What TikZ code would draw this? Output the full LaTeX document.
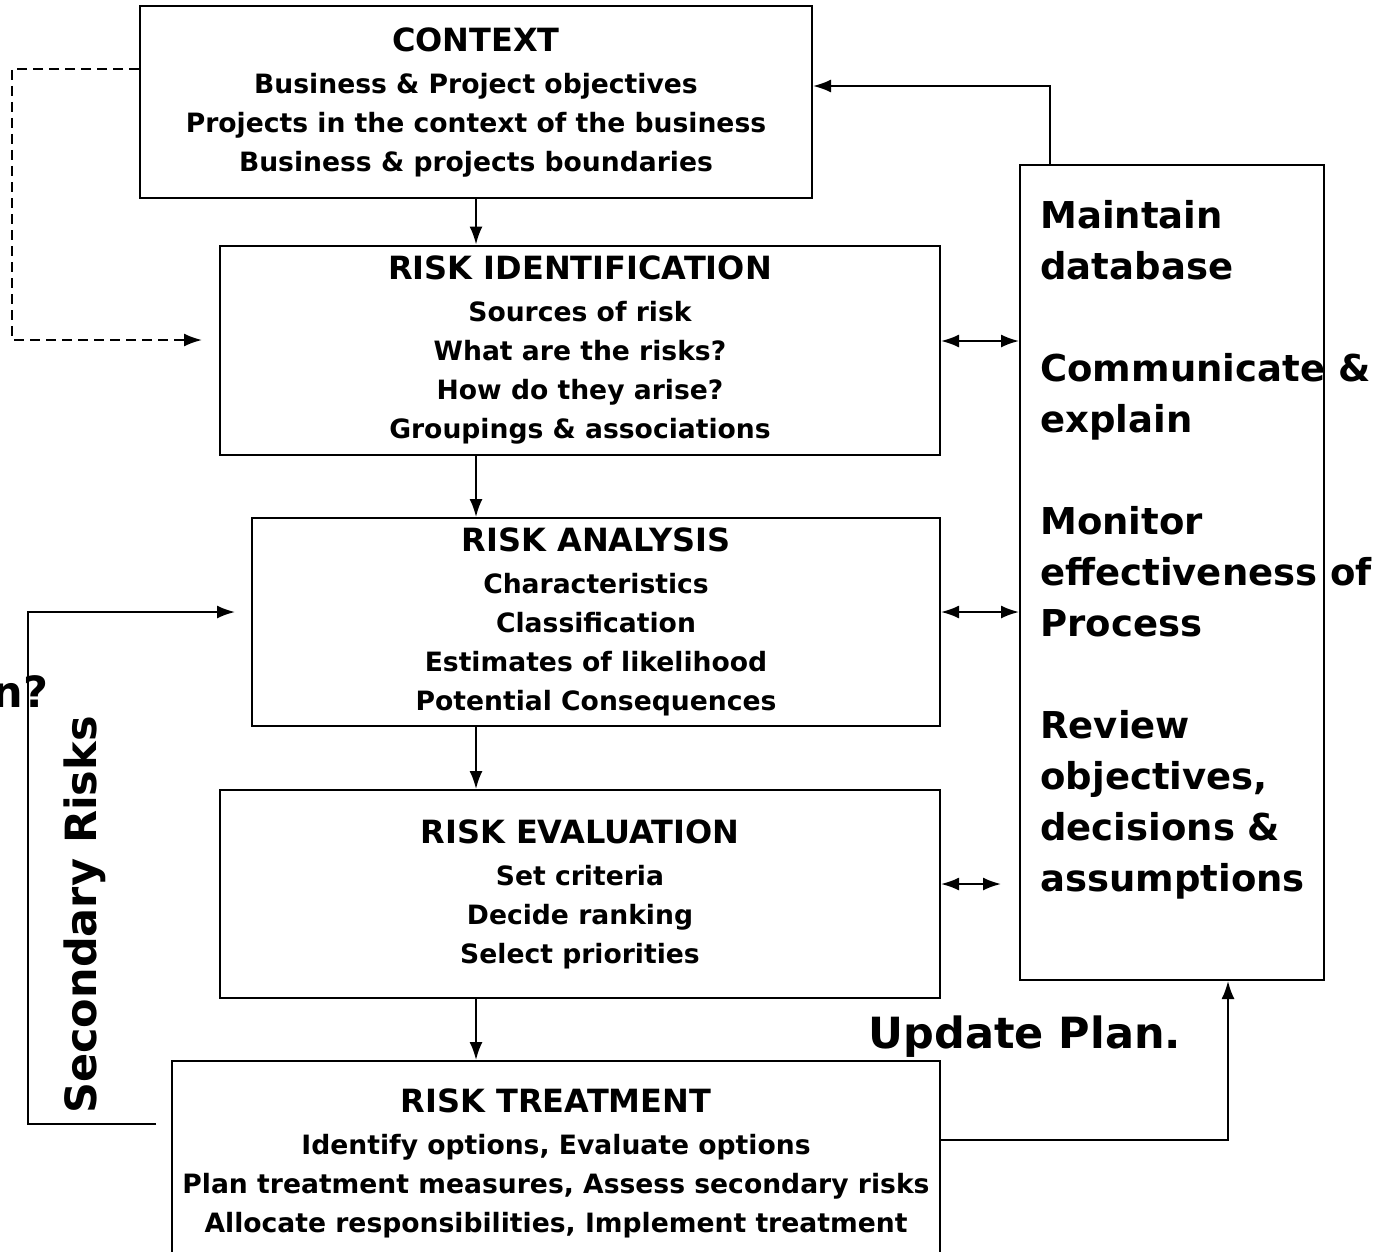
\documentclass[tikz,border=0pt]{standalone}
\usepackage{fontspec}
\setmainfont{DejaVu Sans}
\usetikzlibrary{arrows.meta}
\tikzset{
  stage/.style={draw, line width=1pt, align=center, inner sep=0pt,
    font=\bfseries\fontsize{13.3}{19.5}\selectfont},
  flow/.style={line width=1pt, -{Latex[length=9pt,width=6.5pt]}},
  both/.style={line width=1pt, {Latex[length=9pt,width=6.5pt]}-{Latex[length=9pt,width=6.5pt]}},
  bigtext/.style={font=\bfseries\fontsize{18.5}{25.5}\selectfont},
  hugetext/.style={font=\bfseries\fontsize{21.5}{26}\selectfont}
}
\newcommand{\stagetitle}[1]{{\fontsize{16}{19.5}\selectfont #1}\\[1.5pt]}
\begin{document}
\begin{tikzpicture}[x=0.5pt, y=-0.5pt]
  \useasboundingbox (0,0) rectangle (1392,1252);

  % the five stages
  \node[stage, minimum width=336pt, minimum height=95.5pt] (ctx) at (476,102) {%
    \stagetitle{CONTEXT}Business \& Project objectives\\Projects in the context of the business\\Business \& projects boundaries};
  \node[stage, minimum width=360pt, minimum height=104.5pt] (ident) at (580,350) {%
    \stagetitle{RISK IDENTIFICATION}Sources of risk\\What are the risks?\\How do they arise?\\Groupings \& associations};
  \node[stage, minimum width=344pt, minimum height=104pt] (anal) at (596,622) {%
    \stagetitle{RISK ANALYSIS}Characteristics\\Classification\\Estimates of likelihood\\Potential Consequences};
  \node[stage, minimum width=360pt, minimum height=104pt] (eval) at (580,894) {%
    \stagetitle{RISK EVALUATION}Set criteria\\Decide ranking\\Select priorities};
  \node[stage, minimum width=384pt, minimum height=102pt] (treat) at (556,1163) {%
    \stagetitle{RISK TREATMENT}Identify options, Evaluate options\\Plan treatment measures, Assess secondary risks\\Allocate responsibilities, Implement treatment};

  % monitoring panel on the right
  \node[draw, line width=1pt, minimum width=152pt, minimum height=407.5pt] (panel) at (1172,572.5) {};
  \node[bigtext, align=left, anchor=north west, inner sep=0pt] (tasks) at (1040,200) {%
    Maintain\\database\\[25.5pt]Communicate \&\\explain\\[25.5pt]Monitor\\effectiveness of\\Process\\[25.5pt]Review\\objectives,\\decisions \&\\assumptions};

  % free labels
  \node[hugetext] (upd) at (1025,1037) {Update Plan.};
  \node[hugetext, rotate=90] (sec) at (85,915) {Secondary Risks};
  \node[hugetext, anchor=west, inner sep=0pt] (ret) at (-8,692) {n?};
  \coordinate (dl) at (12,0);
  \coordinate (sl) at (28,0);

  % main flow down
  \draw[flow] (ctx.south) -- (ctx.south |- ident.north);
  \draw[flow] (ctx.south |- ident.south) -- (ctx.south |- anal.north);
  \draw[flow] (ctx.south |- anal.south) -- (ctx.south |- eval.north);
  \draw[flow] (ctx.south |- eval.south) -- (ctx.south |- treat.north);

  % links to the panel
  \draw[both] ([yshift=4.5pt]ident.east) -- ([yshift=4.5pt]ident.east -| panel.west);
  \draw[both] ([yshift=5pt]anal.east) -- ([yshift=5pt]anal.east -| panel.west);
  \draw[both] ([yshift=5pt]eval.east) -- ([xshift=-9pt,yshift=5pt]eval.east -| panel.west);
  \draw[flow] ([xshift=15.5pt]panel.north west) |- ([yshift=8pt]ctx.east);
  \draw[flow] ([yshift=11.5pt]treat.east) -| ([xshift=28pt]panel.south);

  % loops on the left
  \draw[flow, dash pattern=on 5pt off 3pt] ([yshift=16.5pt]ctx.west) -- ([yshift=16.5pt]ctx.west -| dl)
    |- ([xshift=-8.5pt,yshift=5pt]ident.west);
  \draw[flow] ([xshift=-7.5pt,yshift=19.5pt]treat.west) -- ([yshift=19.5pt]treat.west -| sl)
    |- ([xshift=-8pt,yshift=5pt]anal.west);
\end{tikzpicture}
\end{document}
